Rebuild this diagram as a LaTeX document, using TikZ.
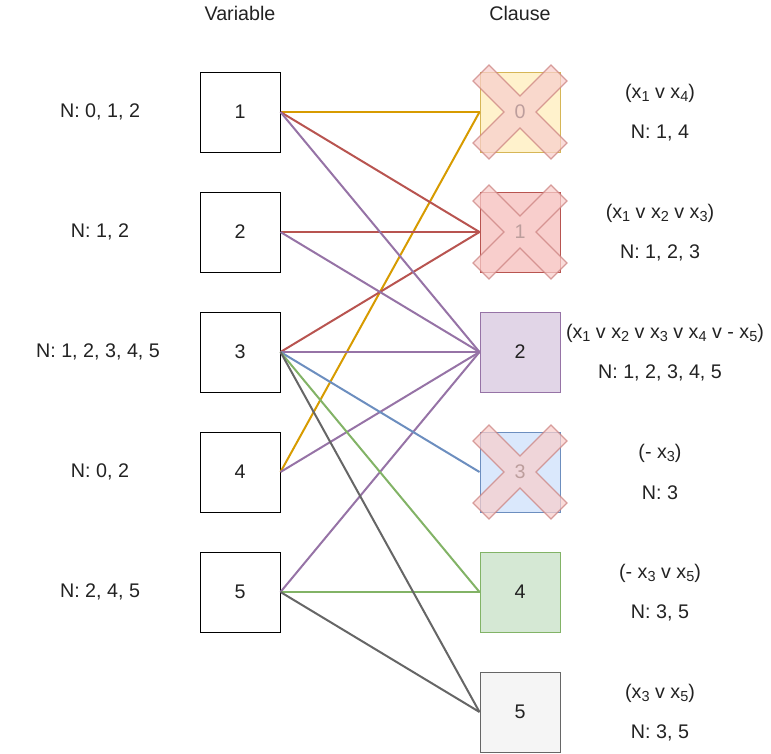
\documentclass[tikz,border=0pt]{standalone}
\usepackage{fontspec}
\setmainfont{Liberation Sans}
\newcommand\xs[1]{x\raisebox{-0.35ex}{\fontsize{14.5}{16}\selectfont #1}}
\definecolor{e0}{HTML}{D79B00}
\definecolor{e1}{HTML}{B85450}
\definecolor{e2}{HTML}{9673A6}
\definecolor{e3}{HTML}{6C8EBF}
\definecolor{e4}{HTML}{82B366}
\definecolor{e5}{HTML}{666666}
\definecolor{f0}{HTML}{FFF2CC}
\definecolor{d0}{HTML}{D6B656}
\definecolor{f1}{HTML}{F8CECC}
\definecolor{f2}{HTML}{E1D5E7}
\definecolor{f3}{HTML}{DAE8FC}
\definecolor{f4}{HTML}{D5E8D4}
\definecolor{f5}{HTML}{F5F5F5}
\definecolor{txt}{HTML}{222222}
\begin{document}
\begin{tikzpicture}[x=1pt,y=-1pt,
  lbl/.style={font=\fontsize{19.7}{23}\selectfont, text=txt, inner sep=0pt},
  var/.style={draw=black, line width=1pt, minimum size=80pt, inner sep=0pt, font=\fontsize{19.7}{23}\selectfont, text=txt},
  clause/.style={line width=1pt, minimum size=80pt, inner sep=0pt, font=\fontsize{19.7}{23}\selectfont, text=txt},
  edge/.style={line width=2pt},
  xmark/.pic={\filldraw[fill=f1, draw=e1!75, opacity=0.72, line width=1.2pt] (0,-16) -- (31,-47) -- (47,-31) -- (16,0) -- (47,31) -- (31,47) -- (0,16) -- (-31,47) -- (-47,31) -- (-16,0) -- (-47,-31) -- (-31,-47) -- cycle;}
]
\useasboundingbox (0,0) rectangle (771,753);

% headers
\node[lbl] (hv) at (240,13) {Variable};
\node[lbl] (hc) at (520,13) {Clause};

% variable boxes
\node[var] (v1) at (240,112) {1};
\node[var] (v2) at (240,232) {2};
\node[var] (v3) at (240,352) {3};
\node[var] (v4) at (240,472) {4};
\node[var] (v5) at (240,592) {5};

% left labels
\node[lbl] (n1) at (100,112) {N: 0, 1, 2};
\node[lbl] (n2) at (100,232) {N: 1, 2};
\node[lbl] (n3) at (98,352) {N: 1, 2, 3, 4, 5};
\node[lbl] (n4) at (100,472) {N: 0, 2};
\node[lbl] (n5) at (100,592) {N: 2, 4, 5};

% clause boxes
\node[clause, fill=f0, draw=d0] (c0) at (520,112) {0};
\node[clause, fill=f1, draw=e1] (c1) at (520,232) {1};
\node[clause, fill=f2, draw=e2] (c2) at (520,352) {2};
\node[clause, fill=f3, draw=e3] (c3) at (520,472) {3};
\node[clause, fill=f4, draw=e4] (c4) at (520,592) {4};
\node[clause, fill=f5, draw=e5] (c5) at (520,712) {5};

% edges
\draw[edge, e0] (v1.east) -- (c0.west);
\draw[edge, e0] (v4.east) -- (c0.west);
\draw[edge, e1] (v1.east) -- (c1.west);
\draw[edge, e1] (v2.east) -- (c1.west);
\draw[edge, e1] (v3.east) -- (c1.west);
\draw[edge, e2] (v1.east) -- (c2.west);
\draw[edge, e2] (v2.east) -- (c2.west);
\draw[edge, e2] (v3.east) -- (c2.west);
\draw[edge, e2] (v4.east) -- (c2.west);
\draw[edge, e2] (v5.east) -- (c2.west);
\draw[edge, e3] (v3.east) -- (c3.west);
\draw[edge, e4] (v3.east) -- (c4.west);
\draw[edge, e4] (v5.east) -- (c4.west);
\draw[edge, e5] (v3.east) -- (c5.west);
\draw[edge, e5] (v5.east) -- (c5.west);

% crosses
\pic at (c0.center) {xmark};
\pic at (c1.center) {xmark};
\pic at (c3.center) {xmark};

% clause texts
\node[lbl] (t0a) at (660,93) {(\xs1 v \xs4)};
\node[lbl] (t0b) at (660,133) {N: 1, 4};
\node[lbl] (t1a) at (660,213) {(\xs1 v \xs2 v \xs3)};
\node[lbl] (t1b) at (660,253) {N: 1, 2, 3};
\node[lbl] (t2a) at (665,333) {(\xs1 v \xs2 v \xs3 v \xs4 v - \xs5)};
\node[lbl] (t2b) at (660,373) {N: 1, 2, 3, 4, 5};
\node[lbl] (t3a) at (660,453) {(- \xs3)};
\node[lbl] (t3b) at (660,493) {N: 3};
\node[lbl] (t4a) at (660,573) {(- \xs3 v \xs5)};
\node[lbl] (t4b) at (660,613) {N: 3, 5};
\node[lbl] (t5a) at (660,693) {(\xs3 v \xs5)};
\node[lbl] (t5b) at (660,733) {N: 3, 5};
\end{tikzpicture}
\end{document}
